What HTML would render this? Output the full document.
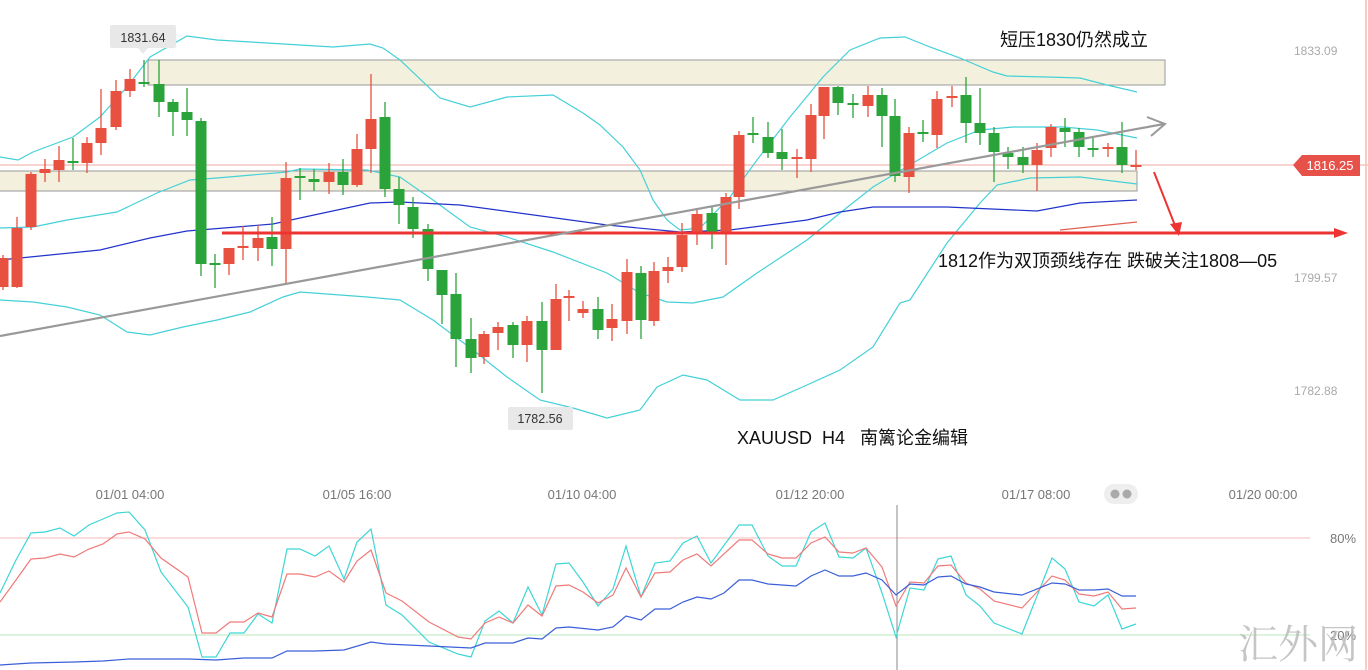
<!DOCTYPE html>
<html><head><meta charset="utf-8"><style>
html,body{margin:0;padding:0;background:#fff;}
body{width:1368px;height:670px;overflow:hidden;position:relative;font-family:"Liberation Sans","Noto Sans CJK SC",sans-serif;}
svg{position:absolute;left:0;top:0;}
text{white-space:pre;}
</style></head><body>
<svg id="s" width="1368" height="670" xmlns="http://www.w3.org/2000/svg">
<rect x="148" y="60" width="1017" height="25" fill="#f3f1dd" stroke="#999" stroke-width="1"/>
<rect x="-1" y="171" width="1138" height="20" fill="#f3f1dd" stroke="#999" stroke-width="1"/>
<line x1="0" y1="165" x2="1368" y2="165" stroke="#f0a9a0" stroke-width="1"/>
<line x1="1366" y1="0" x2="1366" y2="670" stroke="#f4c1a8" stroke-width="1.5"/>
<g id="bands" fill="none" stroke-width="1.2"></g>
<g id="candles"></g>
<line x1="222" y1="233" x2="1338" y2="233" stroke="#ee3333" stroke-width="3"/>
<polygon points="1348,233 1334,228 1334,238" fill="#ee3333"/>
<line x1="0" y1="336" x2="1164" y2="124" stroke="#999" stroke-width="2.2"/>
<polyline points="1147,117 1165,124 1151,136" fill="none" stroke="#999" stroke-width="2"/>
<line x1="1154" y1="172" x2="1176" y2="228" stroke="#ee3333" stroke-width="2"/>
<polygon points="1179,236 1170,224 1182,222" fill="#ee3333"/>
<text x="1000" y="46" font-size="18" fill="#111">短压1830仍然成立</text>
<text x="938" y="267" font-size="18" fill="#111">1812作为双顶颈线存在 跌破关注1808—05</text>
<text x="737" y="444" font-size="18" fill="#111" xml:space="preserve">XAUUSD  H4   南篱论金编辑</text>
<rect x="110" y="25" width="66" height="23" rx="2" fill="#e8e8e8"/>
<polygon points="138,48 148,48 143,54" fill="#e8e8e8"/>
<text x="143" y="42" font-size="12.5" fill="#333" text-anchor="middle">1831.64</text>
<rect x="508" y="407" width="65" height="23" rx="2" fill="#e8e8e8"/>
<text x="540" y="423" font-size="12.5" fill="#333" text-anchor="middle">1782.56</text>
<polygon points="1293,165 1302,155 1360,155 1360,176 1302,176" fill="#e6524a"/>
<text x="1330" y="170" font-size="13" fill="#fff" text-anchor="middle">1816.25</text>
<g font-size="12" fill="#aaa">
<text x="1294" y="55">1833.09</text>
<text x="1294" y="282">1799.57</text>
<text x="1294" y="395">1782.88</text>
</g>
<g font-size="13" fill="#777" text-anchor="middle">
<text x="130" y="499">01/01 04:00</text>
<text x="357" y="499">01/05 16:00</text>
<text x="582" y="499">01/10 04:00</text>
<text x="810" y="499">01/12 20:00</text>
<text x="1036" y="499">01/17 08:00</text>
<text x="1263" y="499">01/20 00:00</text>
</g>
<rect x="1104" y="484" width="34" height="20" rx="10" fill="#eee"/>
<circle cx="1115" cy="494" r="4.5" fill="#aaa"/><circle cx="1127" cy="494" r="4.5" fill="#aaa"/>
<line x1="0" y1="538" x2="1310" y2="538" stroke="#f5b8b8" stroke-width="1"/>
<line x1="0" y1="635" x2="1310" y2="635" stroke="#b9e8b9" stroke-width="1"/>
<line x1="897" y1="505" x2="897" y2="670" stroke="#888" stroke-width="1"/>
<text x="1330" y="543" font-size="13" fill="#777">80%</text>
<text x="1330" y="640" font-size="13" fill="#777">20%</text>
<g id="ind" fill="none" stroke-width="1.2"></g>
<text x="1238" y="658" font-size="40" fill="#bbb" font-family="'Noto Serif CJK SC',serif" opacity="0.85">汇外网</text>
</svg>
<script>
var NS="http://www.w3.org/2000/svg";
function pl(g,pts,col,w){var p=document.createElementNS(NS,"polyline");p.setAttribute("points",pts.map(function(a){return a.join(",")}).join(" "));p.setAttribute("stroke",col);if(w)p.setAttribute("stroke-width",w);p.setAttribute("fill","none");document.getElementById(g).appendChild(p);}
pl("bands",[[0,157],[18,160],[33,152],[73,137],[100,117],[127,87],[150,57],[187,36],[217,40],[267,43],[333,47],[370,44],[383,48],[400,60],[440,98],[470,107],[507,97],[553,95],[583,113],[600,125],[623,147],[640,170],[653,200],[667,220],[680,230],[700,228],[730,197],[757,160],[790,117],[823,77],[850,50],[880,38],[905,37],[930,47],[960,58],[993,72],[1007,76],[1047,77],[1080,78],[1107,85],[1137,92]],"#45d0d8");
pl("bands",[[0,228],[33,227],[67,220],[117,212],[157,193],[190,180],[217,178],[287,172],[300,169],[367,170],[400,177],[433,200],[470,227],[507,237],[553,252],[607,273],[640,293],[667,302],[693,303],[723,297],[757,273],[807,240],[840,213],[873,187],[913,163],[947,143],[980,130],[1013,127],[1063,127],[1097,130],[1137,138]],"#45d0d8");
pl("bands",[[0,300],[33,302],[67,307],[100,315],[127,332],[150,335],[183,327],[217,320],[250,312],[283,297],[300,292],[367,297],[400,300],[433,320],[473,350],[507,377],[540,400],[573,408],[607,418],[640,410],[657,387],[683,375],[707,380],[740,400],[773,400],[807,385],[840,370],[873,347],[900,303],[910,300],[947,243],[980,203],[997,185],[1030,178],[1080,177],[1137,184]],"#45d0d8");
pl("bands",[[0,260],[50,255],[100,250],[150,238],[187,231],[273,224],[300,218],[370,203],[400,202],[460,205],[607,225],[680,232],[730,230],[807,220],[840,212],[873,207],[947,207],[1037,211],[1080,203],[1137,200]],"#2233cc");
pl("bands",[[1060,230],[1137,222]],"#e06050");
var C=[[3,258,287,255,290,'r'],[17,228,287,217,288,'r'],[31,174,227,172,230,'r'],[45,169,173,159,182,'r'],[59,160,170,146,182,'r'],[73,161,163,138,170,'g'],[87,143,163,137,173,'r'],[101,128,143,89,155,'r'],[116,91,127,80,130,'r'],[130,79,91,69,97,'r'],[144,82,84,60,87,'g'],[159,84,102,60,117,'g'],[173,102,112,99,136,'g'],[187,112,120,88,136,'g'],[201,121,264,118,276,'g'],[215,263,265,254,288,'g'],[229,248,264,248,275,'r'],[243,246,248,226,260,'r'],[258,238,248,225,261,'r'],[272,237,249,217,266,'g'],[286,178,249,162,284,'r'],[300,176,178,168,200,'g'],[314,179,182,169,191,'g'],[329,172,182,163,194,'r'],[343,172,185,159,195,'g'],[357,149,185,134,187,'r'],[371,119,149,74,173,'r'],[385,117,189,102,197,'g'],[399,189,205,177,224,'g'],[413,207,229,197,238,'g'],[428,229,269,224,281,'g'],[442,270,295,272,324,'g'],[456,294,339,273,367,'g'],
[471,339,358,318,373,'g'],[484,334,357,331,364,'r'],[498,327,333,322,350,'r'],[513,325,345,322,358,'g'],[527,321,345,316,362,'r'],[542,321,350,302,393,'g'],[556,299,350,284,350,'r'],[569,296,298,290,321,'r'],[583,309,313,301,318,'r'],[598,309,330,297,339,'g'],[612,319,328,304,341,'r'],[627,272,321,259,334,'r'],[641,273,320,266,339,'g'],[654,271,321,262,326,'r'],[668,267,271,257,283,'r'],[682,235,267,223,272,'r'],[697,214,234,209,245,'r'],[712,213,232,206,249,'g'],[726,197,232,193,265,'r'],[739,135,197,131,209,'r'],[753,133,135,117,143,'g'],[768,137,153,122,158,'g'],[782,152,159,129,170,'g'],[797,157,159,149,178,'r'],[811,115,159,104,172,'r'],[824,87,116,87,139,'r'],[838,87,103,86,115,'g'],[853,103,105,94,118,'g'],[868,95,106,86,117,'r'],[882,95,116,88,147,'g'],
[895,116,176,99,182,'g'],[909,133,177,127,193,'r'],[923,132,134,120,142,'g'],[937,99,135,91,148,'r'],[952,96,98,86,107,'r'],[966,95,123,77,143,'g'],[980,123,133,88,145,'g'],[994,133,152,127,182,'g'],[1008,153,157,147,169,'g'],[1023,157,165,147,173,'g'],[1037,150,165,143,191,'r'],[1051,127,148,124,157,'r'],[1065,128,132,118,147,'g'],[1079,132,147,128,157,'g'],[1093,148,150,138,157,'g'],[1108,147,149,143,157,'r'],[1122,147,165,122,173,'g'],[1136,165,167,150,170,'r']];
var g=document.getElementById("candles");
C.forEach(function(c){var col=c[5]=='r'?'#e8503f':'#2aa33a';
var l=document.createElementNS(NS,"line");l.setAttribute("x1",c[0]);l.setAttribute("x2",c[0]);l.setAttribute("y1",c[3]);l.setAttribute("y2",c[4]);l.setAttribute("stroke",col);l.setAttribute("stroke-width","1.3");g.appendChild(l);
var r=document.createElementNS(NS,"rect");var h=Math.max(c[2]-c[1],2);r.setAttribute("x",c[0]-5.5);r.setAttribute("y",c[1]);r.setAttribute("width",11);r.setAttribute("height",h);r.setAttribute("fill",col);g.appendChild(r);});
var xs4=[0,16,31,45,60,74,89,103,117,129,145,161,188,202,216,230,244,258,272,287,300,315,329,344,357,371,386,402,429,458,471,485,499,513,528,542,556,569,583,598,613,626,641,655,670,683];
var cy4=[593,560,533,532,528,536,525,519,513,512,530,572,607,657,657,633,633,614,623,549,549,556,546,579,542,529,605,615,642,654,657,621,611,623,587,615,564,563,582,606,589,546,597,563,561,543];
var ry4=[602,580,559,558,554,557,549,544,534,532,539,558,577,633,633,622,622,613,617,574,574,577,571,582,561,550,593,601,622,637,639,623,617,623,605,616,586,585,592,603,595,568,597,573,572,560];
var xs5=[697,711,739,752,768,782,796,811,825,839,853,866,882,896,910,924,938,951,966,980,994,1022,1052,1065,1079,1094,1108,1122,1136];
var cy5=[536,563,525,525,556,566,566,532,523,557,558,548,593,637,588,590,559,556,595,606,623,634,558,569,602,606,595,629,624];
var ry5=[554,566,540,540,554,558,558,543,537,552,553,548,567,606,582,583,566,565,583,589,601,608,576,580,594,596,592,609,608];
function zip(a,b){return a.map(function(v,i){return [v,b[i]]})}
pl("ind",zip(xs4,cy4).concat(zip(xs5,cy5)),"#3ed6d6");
pl("ind",zip(xs4,ry4).concat(zip(xs5,ry5)),"#f07a7a");
var bz4=[[0,665],[31,663],[74,662],[103,661],[129,659],[188,659],[216,660],[244,658],[272,658],[287,651],[315,651],[344,650],[371,642],[386,644],[429,646],[471,648],[485,643],[513,643],[528,638],[542,639],[556,628],[569,627],[598,630],[613,627],[626,616],[641,620],[655,609],[670,609],[683,602]];
var bz5=[[697,597],[711,599],[724,593],[739,580],[752,580],[768,584],[796,586],[811,576],[825,570],[839,576],[853,576],[866,573],[882,580],[896,595],[910,584],[924,585],[938,577],[951,576],[966,584],[980,587],[994,592],[1022,595],[1052,583],[1065,584],[1079,590],[1094,590],[1108,589],[1122,596],[1136,596]];
pl("ind",bz4.concat(bz5),"#3a5fd8");
</script>
</body></html>
